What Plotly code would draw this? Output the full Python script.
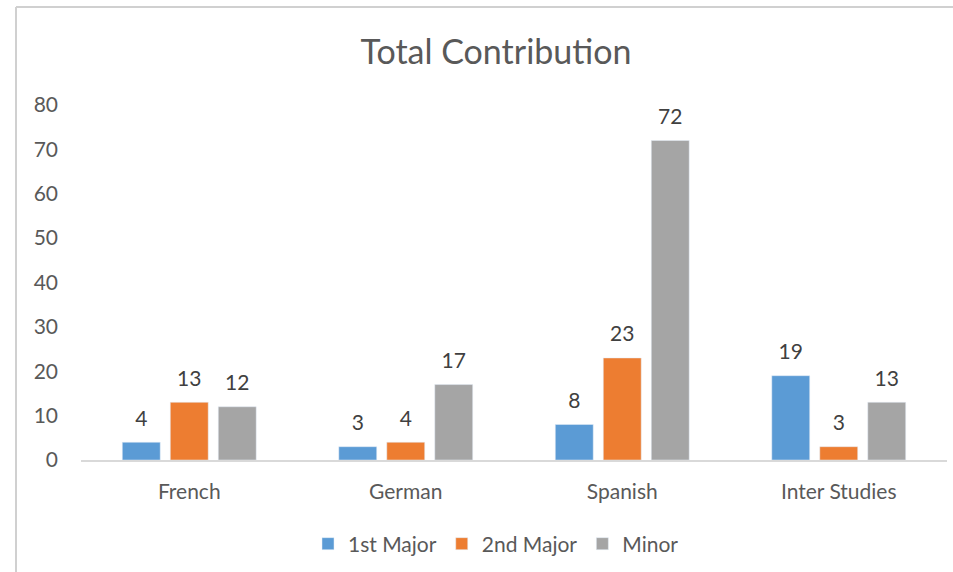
import plotly.graph_objects as go

categories = ["French", "German", "Spanish", "Inter Studies"]
first_major = [4, 3, 8, 19]
second_major = [13, 4, 23, 3]
minor = [12, 17, 72, 13]

series = [
    ("1st Major", first_major, "#5B9BD5"),
    ("2nd Major", second_major, "#ED7D31"),
    ("Minor", minor, "#A5A5A5"),
]

FONT = "Lato"

fig = go.Figure()
for name, vals, color in series:
    fig.add_trace(
        go.Bar(
            x=categories,
            y=vals,
            name=name,
            marker_color=color,
            text=vals,
            # small trailing line lifts the label a bit further above the bar
            texttemplate="<span style='font-size:21px'>%{text}</span><br>\u00a0",
            textposition="outside",
            cliponaxis=False,
            textfont=dict(size=9, color="#404040", family=FONT),
        )
    )

# plot area in pixels: x 81..947, y 105..460
L, R, T, B = 81, 6, 105, 112
W, H = 953, 572
pw, ph = W - L - R, H - T - B

border = dict(color="#D0D0D0", width=2)
bx = (16 - L) / pw
by = ((H - B) - 7) / ph

fig.update_layout(
    width=W,
    height=H,
    autosize=False,
    margin=dict(l=L, r=R, t=T, b=B, pad=0),
    paper_bgcolor="white",
    plot_bgcolor="white",
    barmode="group",
    bargap=0.335,
    bargroupgap=0.21,
    font=dict(family=FONT, color="#595959"),
    title=dict(
        text="Total Contribution",
        x=496 / W,
        xanchor="center",
        y=1 - 52 / H,
        yanchor="middle",
        font=dict(size=34, color="#595959", family=FONT),
    ),
    legend=dict(
        orientation="h",
        x=(496 - L) / pw,
        xanchor="center",
        y=-(544 - (H - B)) / ph,
        yanchor="middle",
        font=dict(size=21, color="#595959", family=FONT),
        itemwidth=30,
        traceorder="normal",
    ),
    shapes=[
        dict(type="line", xref="paper", yref="paper",
             x0=bx, x1=2, y0=by, y1=by, line=border, layer="below"),
        dict(type="line", xref="paper", yref="paper",
             x0=bx, x1=bx, y0=-2, y1=by, line=border, layer="below"),
    ],
)

fig.update_xaxes(
    showline=True,
    linecolor="#D9D9D9",
    linewidth=2,
    showgrid=False,
    ticks="",
    tickfont=dict(size=21, color="#595959", family=FONT),
    ticklabelstandoff=12,
)
fig.update_yaxes(
    range=[0, 80],
    dtick=10,
    showline=False,
    showgrid=False,
    zeroline=False,
    ticks="",
    tickfont=dict(size=21, color="#595959", family=FONT),
    ticklabelstandoff=22,
)

fig.write_html(
    "out.html",
    config={"displayModeBar": False},
    post_script="document.body.style.margin='0';document.body.style.overflow='hidden';",
)
